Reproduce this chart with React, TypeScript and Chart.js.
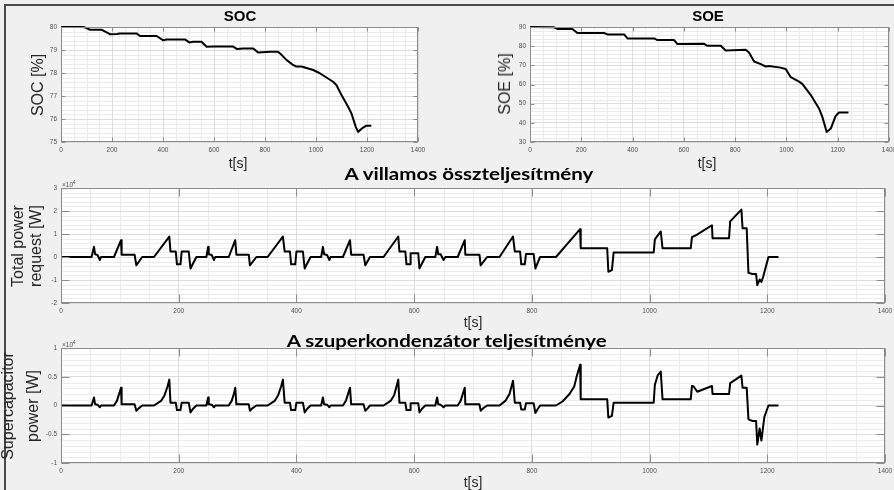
import React, { useEffect, useRef } from "react";
import { Chart, registerables } from "chart.js";

Chart.register(...registerables);

// ---------------- data ----------------
const socTime = [0, 88, 98, 114, 159, 166, 192, 220, 230, 296, 310, 375, 401, 414, 486, 503, 518, 551, 571, 597,
  675, 691, 714, 754, 773, 806, 819, 851, 865, 884, 910, 923, 943, 989, 1015, 1067, 1080, 1100, 1126, 1139,
  1156, 1165, 1185, 1198, 1217];
const socValue = [80, 80, 79.96, 79.88, 79.88, 79.84, 79.69, 79.7, 79.72, 79.72, 79.61, 79.61, 79.42, 79.46, 79.46,
  79.33, 79.36, 79.36, 79.14, 79.15, 79.15, 79.04, 79.07, 79.07, 78.89, 78.91, 78.92, 78.92, 78.79, 78.57,
  78.35, 78.28, 78.28, 78.13, 77.99, 77.62, 77.48, 77.04, 76.53, 76.24, 75.66, 75.44, 75.63, 75.71, 75.71];

const soeTime = [0, 94, 107, 165, 185, 289, 302, 367, 380, 484, 497, 562, 575, 679, 692, 744, 763, 841, 854, 874,
  900, 919, 932, 977, 997, 1017, 1049, 1062, 1095, 1127, 1140, 1157, 1173, 1192, 1205, 1242];
const soeValue = [90, 89.85, 89, 89, 86.85, 86.85, 86.15, 86.15, 84.05, 84.05, 83.18, 83.18, 81.08, 81.25, 80.2,
  80.2, 77.75, 78.1, 76.7, 72, 70.6, 69.4, 69.7, 68.8, 68.1, 63.8, 61.5, 60.3, 54.5, 47.5, 43.1, 35.2, 37,
  43.6, 45.4, 45.4];

const powerTime = [
  0, 52, 56, 58, 62, 66, 68,
  90, 102, 103, 125, 128, 138,
  158, 184, 186, 195, 197, 203, 205, 217, 220, 230,
  247, 250, 251, 256, 260, 262,
  285, 296, 298, 319, 321, 332,
  351, 377, 380, 389, 391, 398, 400, 411, 414, 424,
  442, 445, 447, 452, 456, 458,
  479, 491, 493, 514, 517, 525,
  548, 573, 575, 585, 587, 593, 594, 607, 609, 619,
  636, 639, 641, 645, 650, 653,
  674, 686, 687, 711, 713, 724,
  745, 768, 771, 780, 782, 788, 790, 803, 806, 814,
  841, 882, 883, 928, 930, 936, 939, 1007, 1009, 1019, 1022, 1070, 1072, 1080, 1106, 1107, 1135, 1137, 1156,
  1158, 1165, 1168, 1175, 1181, 1183, 1187, 1190, 1193, 1202, 1219];
const powerValue = [
  0, 0, 4400, 1200, 900, -1300, 0,
  0, 7300, 1000, 1000, -3600, 0,
  0, 8900, 2400, 2400, -3200, -3200, 2400, 2400, -5000, 0,
  0, 4400, 1200, 900, -1300, 0,
  0, 7300, 1000, 1000, -3600, 0,
  0, 8900, 2400, 2400, -3200, -3200, 2400, 2400, -5000, 0,
  0, 4400, 1200, 900, -1300, 0,
  0, 7300, 1000, 1000, -3600, 0,
  0, 8900, 2400, 2400, -3200, -3200, 1600, 1600, -5000, 0,
  0, 4400, 1200, 1200, -1300, 0,
  0, 7300, 1000, 1000, -3600, 0,
  0, 8900, 2400, 2400, -3200, -3200, 1300, 1300, -5000, 0,
  0, 12100, 3800, 3800, -6400, -5700, 2000, 2000, 7700, 11100, 3800, 3800, 8600, 9600, 13800, 8200, 8200, 15500, 20600,
  12500, 12500, -6900, -7400, -7400, -12200, -9800, -10800, -8600, 0, 0];

const scTime = [
  0, 52, 56, 58, 62, 66, 68,
  90, 95, 99, 102, 103, 125, 128, 132, 138,
  158, 170, 176, 181, 184, 186, 195, 197, 203, 205, 217, 220, 224, 230,
  247, 250, 251, 256, 260, 262,
  285, 290, 294, 296, 298, 319, 321, 325, 332,
  351, 363, 369, 374, 377, 380, 389, 391, 398, 400, 411, 414, 418, 424,
  442, 445, 447, 452, 456, 458,
  479, 484, 488, 491, 493, 514, 517, 521, 525,
  548, 560, 566, 570, 573, 575, 585, 587, 593, 594, 607, 609, 613, 619,
  636, 639, 641, 645, 650, 653,
  674, 679, 683, 686, 687, 711, 713, 717, 724,
  745, 755, 762, 768, 771, 780, 782, 788, 790, 803, 806, 810, 814,
  841, 852, 864, 872, 876, 882, 883, 928, 930, 936, 939, 1007, 1009, 1014, 1019, 1022, 1070, 1072, 1075, 1081,
  1106, 1107, 1135, 1137, 1156, 1158, 1165, 1168, 1175, 1181, 1183, 1187, 1190, 1195, 1202, 1219];
const scValue = [
  0, 0, 1400, 200, 150, -300, 0,
  0, 800, 2100, 3100, 200, 200, -900, -500, 0,
  0, 800, 1800, 3300, 4500, 500, 500, -800, -800, 500, 500, -1200, -600, 0,
  0, 1400, 200, 150, -300, 0,
  0, 800, 2100, 3100, 200, 200, -900, -500, 0,
  0, 800, 1800, 3300, 4500, 500, 500, -800, -800, 500, 500, -1200, -600, 0,
  0, 1400, 200, 150, -300, 0,
  0, 800, 2100, 3100, 200, 200, -900, -500, 0,
  0, 800, 1800, 3300, 4500, 500, 500, -800, -800, 400, 400, -1200, -600, 0,
  0, 1400, 200, 150, -300, 0,
  0, 800, 2100, 3100, 200, 200, -900, -500, 0,
  0, 800, 2000, 4300, 500, 500, -700, -700, 400, 400, -1300, -600, 0,
  0, 700, 2000, 3300, 5000, 7100, 1100, 1100, -2100, -1800, 500, 500, 3600, 5300, 5900, 1100, 1100, 3400, 3300, 2400,
  3400, 2000, 2000, 3900, 5200, 3100, 3100, -2400, -2700, -2700, -6800, -4000, -6100, -2000, 0, 0];

const timeTicks = [0, 200, 400, 600, 800, 1000, 1200, 1400];
const timeTickLabels = ["0", "200", "400", "600", "800", "1000", "1200", "1400"];
const socTicks = [75, 76, 77, 78, 79, 80];
const socTickLabels = ["75", "76", "77", "78", "79", "80"];
const soeTicks = [30, 40, 50, 60, 70, 80, 90];
const soeTickLabels = ["30", "40", "50", "60", "70", "80", "90"];
const powerTicks = [-20000, -10000, 0, 10000, 20000, 30000];
const powerTickLabels = ["-2", "-1", "0", "1", "2", "3"];
const scTicks = [-10000, -5000, 0, 5000, 10000];
const scTickLabels = ["-1", "-0.5", "0", "0.5", "1"];

// ---------------- style ----------------
const FIG_W = 894;
const FIG_H = 490;
const FONT = "'Liberation Sans', Arial, sans-serif";
const TICK_COLOR = "#505050";
const LABEL_COLOR = "#262626";
const MAJOR_GRID = "#dcdcdc";
const MINOR_GRID = "#ebebeb";
const BOX_COLOR = "#8c8c8c";
const Y_AXIS_W = 30;
const X_AXIS_H = 16;

type Panel = {
  id: string;
  area: [number, number, number, number];
  time: number[];
  value: number[];
  yMin: number;
  yMax: number;
  yTicks: number[];
  yTickLabels: string[];
  yMinor: number;
  xMinor: number;
  tickLen: number;
};

const panels: Panel[] = [
  { id: "soc", area: [61, 27, 418, 142], time: socTime, value: socValue, yMin: 75, yMax: 80,
    yTicks: socTicks, yTickLabels: socTickLabels, yMinor: 0.2, xMinor: 50, tickLen: 4 },
  { id: "soe", area: [530, 27, 889, 142], time: soeTime, value: soeValue, yMin: 30, yMax: 90,
    yTicks: soeTicks, yTickLabels: soeTickLabels, yMinor: 2, xMinor: 50, tickLen: 4 },
  { id: "power", area: [61, 188, 885, 303], time: powerTime, value: powerValue, yMin: -20000, yMax: 30000,
    yTicks: powerTicks, yTickLabels: powerTickLabels, yMinor: 2000, xMinor: 50, tickLen: 8 },
  { id: "sc", area: [61, 348, 885, 463], time: scTime, value: scValue, yMin: -10000, yMax: 10000,
    yTicks: scTicks, yTickLabels: scTickLabels, yMinor: 1000, xMinor: 50, tickLen: 8 },
];

function axesPlugin(p: Panel) {
  return {
    id: "matlabAxes_" + p.id,
    beforeDraw(chart: any) {
      const { ctx, chartArea: a } = chart;
      const xs = chart.scales.x;
      const ys = chart.scales.y;
      ctx.save();
      ctx.fillStyle = "#ffffff";
      ctx.fillRect(a.left, a.top, a.right - a.left, a.bottom - a.top);
      ctx.strokeStyle = MINOR_GRID;
      ctx.lineWidth = 1;
      ctx.beginPath();
      const nx = Math.round(1400 / p.xMinor);
      for (let k = 1; k < nx; k++) {
        const v = k * p.xMinor;
        if (timeTicks.some((t) => Math.abs(t - v) < 1e-6)) continue;
        const px = Math.round(xs.getPixelForValue(v)) + 0.5;
        ctx.moveTo(px, a.top);
        ctx.lineTo(px, a.bottom);
      }
      const ny = Math.round((p.yMax - p.yMin) / p.yMinor);
      for (let k = 1; k < ny; k++) {
        const v = p.yMin + k * p.yMinor;
        if (p.yTicks.some((t) => Math.abs(t - v) < p.yMinor * 1e-3)) continue;
        const py = Math.round(ys.getPixelForValue(v)) + 0.5;
        ctx.moveTo(a.left, py);
        ctx.lineTo(a.right, py);
      }
      ctx.stroke();
      ctx.restore();
    },
    afterDraw(chart: any) {
      const { ctx, chartArea: a } = chart;
      const xs = chart.scales.x;
      const ys = chart.scales.y;
      const L = Math.round(a.left) + 0.5;
      const R = Math.round(a.right) - 0.5;
      const T = Math.round(a.top) + 0.5;
      const B = Math.round(a.bottom) - 0.5;
      const tl = p.tickLen;
      ctx.save();
      ctx.strokeStyle = BOX_COLOR;
      ctx.lineWidth = 1;
      ctx.strokeRect(L, T, R - L, B - T);
      ctx.beginPath();
      timeTicks.forEach((v) => {
        const px = Math.round(xs.getPixelForValue(v)) + 0.5;
        ctx.moveTo(px, B);
        ctx.lineTo(px, B - tl);
        ctx.moveTo(px, T);
        ctx.lineTo(px, T + tl);
      });
      p.yTicks.forEach((v) => {
        const py = Math.round(ys.getPixelForValue(v)) + 0.5;
        ctx.moveTo(L, py);
        ctx.lineTo(L + tl, py);
        ctx.moveTo(R, py);
        ctx.lineTo(R - tl, py);
      });
      ctx.stroke();
      ctx.restore();
    },
  };
}

function PanelChart({ p }: { p: Panel }) {
  const ref = useRef<HTMLCanvasElement>(null);
  useEffect(() => {
    const [l, t, r, b] = p.area;
    const chart = new Chart(ref.current as HTMLCanvasElement, {
      type: "line",
      data: {
        datasets: [
          {
            data: p.time.map((x, i) => ({ x, y: p.value[i] })),
            borderColor: "#000000",
            borderWidth: 2,
            pointRadius: 0,
            tension: 0,
            fill: false,
            clip: false,
            borderJoinStyle: "round",
          } as any,
        ],
      },
      options: {
        responsive: false,
        animation: false,
        events: [],
        layout: {
          padding: { left: l - Y_AXIS_W, top: t, right: FIG_W - r, bottom: FIG_H - b - X_AXIS_H },
        },
        plugins: { legend: { display: false }, tooltip: { enabled: false }, title: { display: false } },
        scales: {
          x: {
            type: "linear",
            min: 0,
            max: 1400,
            afterBuildTicks: (s: any) => {
              s.ticks = timeTicks.map((v) => ({ value: v }));
            },
            afterFit: (s: any) => {
              s.height = X_AXIS_H;
              s.paddingLeft = 0;
              s.paddingRight = 0;
              s.paddingTop = 0;
              s.paddingBottom = 0;
            },
            ticks: {
              autoSkip: false,
              maxRotation: 0,
              minRotation: 0,
              padding: 4,
              color: TICK_COLOR,
              font: { family: FONT, size: 6.5 },
              callback: (_v: any, i: number) => timeTickLabels[i],
            },
            grid: { color: MAJOR_GRID, lineWidth: 1, drawTicks: false },
            border: { display: false },
          },
          y: {
            type: "linear",
            min: p.yMin,
            max: p.yMax,
            afterBuildTicks: (s: any) => {
              s.ticks = p.yTicks.map((v) => ({ value: v }));
            },
            afterFit: (s: any) => {
              s.width = Y_AXIS_W;
              s.paddingLeft = 0;
              s.paddingRight = 0;
              s.paddingTop = 0;
              s.paddingBottom = 0;
            },
            ticks: {
              padding: 4,
              color: TICK_COLOR,
              font: { family: FONT, size: 6.5 },
              callback: (_v: any, i: number) => p.yTickLabels[i],
            },
            grid: { color: MAJOR_GRID, lineWidth: 1, drawTicks: false },
            border: { display: false },
          },
        },
      } as any,
      plugins: [axesPlugin(p)],
    });
    return () => chart.destroy();
  }, [p]);
  return (
    <canvas
      ref={ref}
      width={FIG_W}
      height={FIG_H}
      style={{ position: "absolute", left: 0, top: 0, width: FIG_W, height: FIG_H }}
    />
  );
}

function Txt(props: {
  x: number; y: number; text: string; size: number; bold?: boolean; rotate?: boolean; color?: string;
}) {
  const { x, y, text, size, bold, rotate, color } = props;
  return (
    <div
      style={{
        position: "absolute",
        left: x,
        top: y,
        transform: `translate(-50%, -50%)${rotate ? " rotate(-90deg)" : ""}`,
        fontFamily: FONT,
        fontSize: size,
        fontWeight: bold ? 700 : 400,
        lineHeight: `${size}px`,
        whiteSpace: "nowrap",
        color: color || LABEL_COLOR,
      }}
    >
      {text}
    </div>
  );
}

let measureCtx: CanvasRenderingContext2D | null = null;
function measure(text: string, font: string) {
  if (!measureCtx) measureCtx = document.createElement("canvas").getContext("2d");
  const c = measureCtx as CanvasRenderingContext2D;
  c.font = font;
  const m = c.measureText(text);
  return {
    w: m.width,
    asc: (m as any).fontBoundingBoxAscent ?? 0.987 * 17,
    desc: (m as any).fontBoundingBoxDescent ?? 0.213 * 17,
  };
}

function FitTitle(props: { text: string; cx: number; baseline: number; width: number; size: number }) {
  const { text, cx, baseline, width, size } = props;
  const family = "Lato";
  const font = `700 ${size}px ${family}`;
  const m = measure(text, font);
  const k = m.w > 0 ? width / m.w : 1;
  const baseOff = (size - (m.asc + m.desc)) / 2 + m.asc;
  return (
    <div
      style={{
        position: "absolute",
        left: cx - m.w / 2,
        top: baseline - baseOff,
        width: m.w,
        fontFamily: family,
        fontWeight: 700,
        fontSize: size,
        lineHeight: `${size}px`,
        whiteSpace: "nowrap",
        color: "#000",
        transform: `scaleX(${k})`,
        transformOrigin: "50% 50%",
      }}
    >
      {text}
    </div>
  );
}

function Exponent({ x, y }: { x: number; y: number }) {
  return (
    <div
      style={{
        position: "absolute",
        left: x,
        top: y,
        fontFamily: FONT,
        fontSize: 6.5,
        lineHeight: "7px",
        color: TICK_COLOR,
        whiteSpace: "nowrap",
      }}
    >
      ×10<span style={{ fontSize: 4.5, position: "relative", top: -3 }}>4</span>
    </div>
  );
}

export default function App() {
  return (
    <div
      style={{
        position: "absolute",
        left: 0,
        top: 0,
        width: FIG_W,
        height: FIG_H,
        background: "#f0f0f0",
        overflow: "hidden",
      }}
    >
      <div
        style={{
          position: "absolute",
          left: 4,
          top: 4,
          width: FIG_W,
          height: FIG_H,
          borderTop: "2px solid #4a4a4a",
          borderLeft: "2px solid #4a4a4a",
        }}
      />
      {panels.map((p) => (
        <PanelChart key={p.id} p={p} />
      ))}
      <Txt x={240} y={15} text="SOC" size={15} bold color="#000" />
      <Txt x={708} y={15} text="SOE" size={15} bold color="#000" />
      <Txt x={38} y={84.5} text="SOC [%]" size={16} rotate />
      <Txt x={505} y={84} text="SOE [%]" size={16} rotate />
      <Txt x={18} y={245.5} text="Total power" size={16} rotate />
      <Txt x={36} y={245.5} text="request [W]" size={16} rotate />
      <Txt x={8} y={406} text="Supercapacitor" size={16} rotate />
      <Txt x={33} y={406} text="power [W]" size={16} rotate />
      <Txt x={238} y={163} text="t[s]" size={14} />
      <Txt x={707} y={163} text="t[s]" size={14} />
      <Txt x={473} y={322} text="t[s]" size={14} />
      <Txt x={473} y={482} text="t[s]" size={14} />
      <Exponent x={62} y={181} />
      <Exponent x={62} y={341} />
      <FitTitle text="A villamos összteljesítmény" cx={470} baseline={180} width={250} size={17} />
      <FitTitle text="A szuperkondenzátor teljesítménye" cx={447.5} baseline={346.5} width={321} size={17} />
    </div>
  );
}
